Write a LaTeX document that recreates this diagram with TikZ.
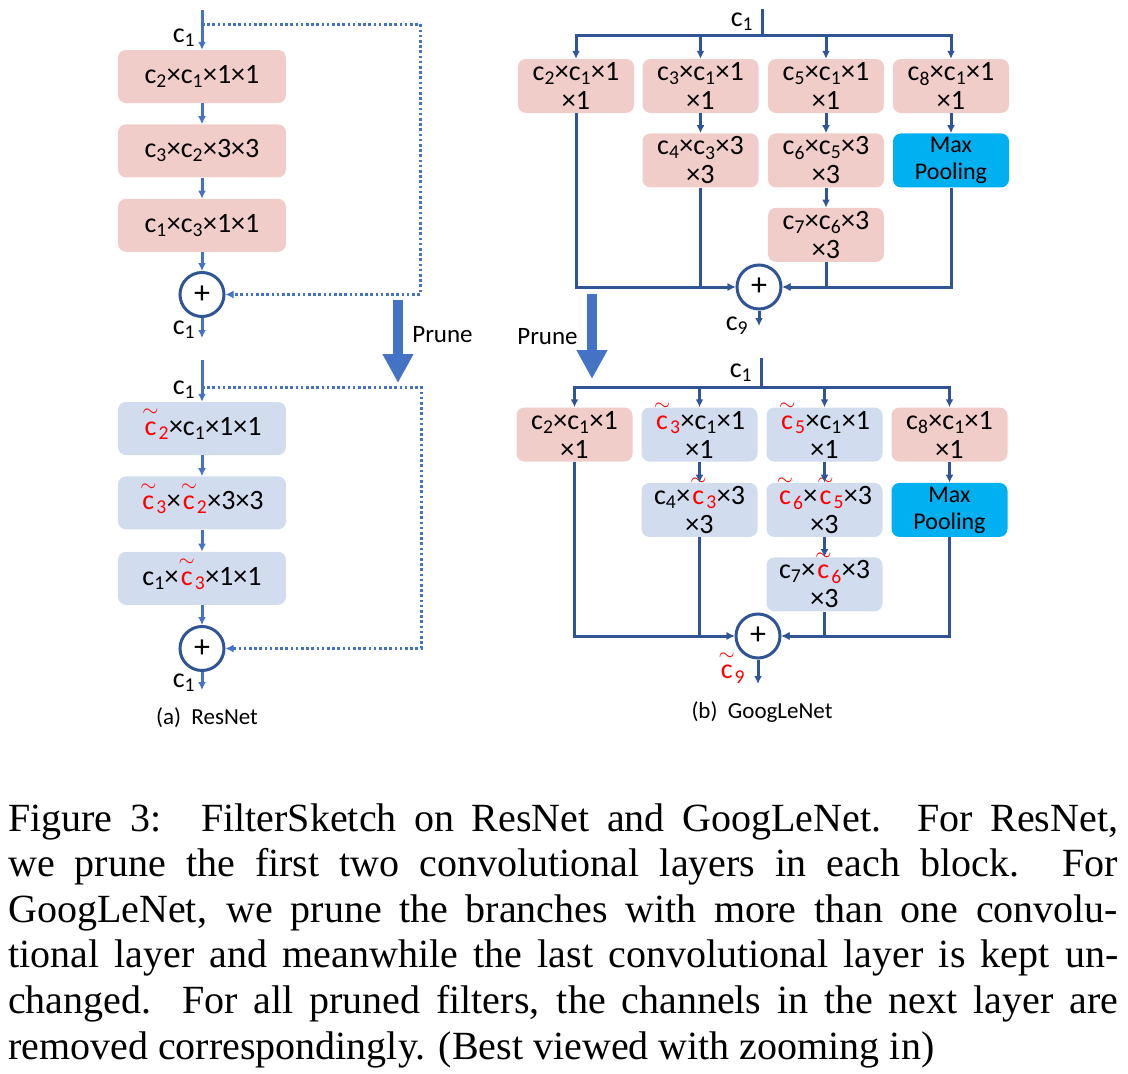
\documentclass[tikz,border=0pt]{standalone}
\usepackage{amsmath}
\usepackage{fontspec}
\setmainfont{Carlito}
\newfontfamily\capfont{Liberation Serif}
\usetikzlibrary{arrows.meta,positioning}
\definecolor{convpink}{HTML}{F1CDCA}
\definecolor{prunedgrey}{HTML}{D1DCEE}
\definecolor{poolcyan}{HTML}{00B0F0}
\definecolor{linkblue}{HTML}{2F5597}
\definecolor{arrowblue}{HTML}{4472C4}
\newcommand{\chn}[1]{$\text{c}_{\text{#1}}$}
\newcommand{\chp}[1]{\textcolor{red}{$\smash[t]{\overset{\sim}{\text{c}}}_{\text{#1}}$}}

\begin{document}
\begin{tikzpicture}[x=1pt, y=-1pt,
        node distance=20pt,
        font=\fontsize{28}{29}\selectfont,
        box/.style={rounded corners=8pt, inner sep=0pt, align=center},
        conv/.style={box, fill=convpink},
        cut/.style={box, fill=prunedgrey},
        pool/.style={box, fill=poolcyan, font=\fontsize{24}{27}\selectfont},
        res/.style={minimum width=168pt, minimum height=53pt},
        inc/.style={minimum width=116pt, minimum height=54pt},
        plus/.style={circle, draw=linkblue, line width=3pt, fill=white, minimum size=44pt, inner sep=0pt, font=\fontsize{32}{32}\selectfont},
        arrow/.style={-{Latex[length=8pt,width=8pt]}, line width=3pt},
        skip/.style={arrow, dash pattern=on 2.6pt off 2.6pt},
        prune/.style={arrowblue, line width=10pt, -{Triangle[length=29pt,width=29pt]}},
        lbl/.style={black, font=\fontsize{25}{25}\selectfont},
        caption/.style={anchor=base west, inner sep=0pt, font=\capfont\fontsize{40}{46}\selectfont},
    ]
    \useasboundingbox (0,0) rectangle (1128,1074);

    % ResNet, original block
    \coordinate (rin) at (202,10);
    \coordinate (rtap) at (202,24);
    \node[conv, res] (ra) at (202,76.5) {\chn{2}×\chn{1}×1×1};
    \node[conv, res, below=21pt of ra] (rb) {\chn{3}×\chn{2}×3×3};
    \node[conv, res, below=21pt of rb] (rc) {\chn{1}×\chn{3}×1×1};
    \node[plus, below=19pt of rc] (rsum) {+};
    \coordinate (rout) at (202,338);
    \begin{scope}[arrowblue]
        \draw[arrow] (rin) -- (ra) node[pos=0.7, left=2pt, black] {\chn{1}};
        \draw[arrow] (ra) -- (rb);
        \draw[arrow] (rb) -- (rc);
        \draw[arrow] (rc) -- (rsum);
        \draw[arrow] (rsum) -- (rout) node[pos=0.6, left=2pt, black] {\chn{1}};
        \draw[skip] (rtap) -- ++(218pt,0) |- (rsum);
    \end{scope}

    % ResNet, pruned block
    \coordinate (rin2) at (202,360);
    \coordinate (rtap2) at (202,387);
    \node[cut, res] (rd) at (202,428.5) {\chp{2}×\chn{1}×1×1};
    \node[cut, res, below=21pt of rd] (re) {\chp{3}×\chp{2}×3×3};
    \node[cut, res, below=22pt of re] (rf) {\chn{1}×\chp{3}×1×1};
    \node[plus, below=20pt of rf] (rsum2) {+};
    \coordinate (rout2) at (202,690);
    \begin{scope}[arrowblue]
        \draw[arrow] (rin2) -- (rd) node[pos=0.7, left=2pt, black] {\chn{1}};
        \draw[arrow] (rd) -- (re);
        \draw[arrow] (re) -- (rf);
        \draw[arrow] (rf) -- (rsum2);
        \draw[arrow] (rsum2) -- (rout2) node[pos=0.6, left=2pt, black] {\chn{1}};
        \draw[skip] (rtap2) -- ++(219pt,0) |- (rsum2);
    \end{scope}

    \coordinate (pa) at (398,300);
    \coordinate (pb) at (398,383);
    \draw[prune] (pa) -- (pb) node[pos=0.42, right=6pt, lbl] {Prune};
    \node[lbl, font=\fontsize{23}{23}\selectfont] (capa) at (207,718) {(a)~~ResNet};

    % GoogLeNet, original block
    \coordinate (gin) at (762,9);
    \coordinate (gsplit) at (762,35);
    \node[conv, inc] (ga) at (576,86) {\chn{2}×\chn{1}×1\\×1};
    \node[conv, inc] (gb) at (700.5,86) {\chn{3}×\chn{1}×1\\×1};
    \node[conv, inc, below=of gb] (gb2) {\chn{4}×\chn{3}×3\\×3};
    \node[conv, inc] (gc) at (826,86) {\chn{5}×\chn{1}×1\\×1};
    \node[conv, inc, below=of gc] (gc2) {\chn{6}×\chn{5}×3\\×3};
    \node[conv, inc, below=of gc2] (gc3) {\chn{7}×\chn{6}×3\\×3};
    \node[conv, inc] (gd) at (951,86) {\chn{8}×\chn{1}×1\\×1};
    \node[pool, inc, below=of gd] (gd2) {Max\\Pooling};
    \node[plus] (gsum) at (759,287) {+};
    \coordinate (gout) at (759,326);
    \begin{scope}[linkblue]
        \draw[line width=3pt] (gin) -- (gsplit) node[midway, left=4pt, black] {\chn{1}};
        \foreach \b in {ga,gb,gc,gd}
            \draw[arrow] (gsplit) -| (\b);
        \draw[arrow] (gb) -- (gb2);
        \draw[arrow] (gc) -- (gc2);
        \draw[arrow] (gc2) -- (gc3);
        \draw[arrow] (gd) -- (gd2);
        \draw[arrow] (ga) |- (gsum);
        \draw[arrow] (gb2) |- (gsum);
        \draw[arrow] (gc3) |- (gsum);
        \draw[arrow] (gd2) |- (gsum);
        \draw[arrow] (gsum) -- (gout) node[at end, left=6pt, black] {\chn{9}};
    \end{scope}

    \coordinate (qa) at (592,294);
    \coordinate (qb) at (592,379);
    \draw[prune] (qa) -- (qb) node[midway, left=6pt, lbl] {Prune};

    % GoogLeNet, pruned block
    \coordinate (hin) at (761,358);
    \coordinate (hsplit) at (761,387);
    \node[conv, inc] (ha) at (574.5,434.5) {\chn{2}×\chn{1}×1\\×1};
    \node[cut, inc] (hb) at (699.5,434.5) {\chp{3}×\chn{1}×1\\×1};
    \node[cut, inc, below=21pt of hb] (hb2) {\chn{4}×\chp{3}×3\\×3};
    \node[cut, inc] (hc) at (824.5,434.5) {\chp{5}×\chn{1}×1\\×1};
    \node[cut, inc, below=21pt of hc] (hc2) {\chp{6}×\chp{5}×3\\×3};
    \node[cut, inc, below=of hc2] (hc3) {\chn{7}×\chp{6}×3\\×3};
    \node[conv, inc] (hd) at (949.5,434.5) {\chn{8}×\chn{1}×1\\×1};
    \node[pool, inc, below=21pt of hd] (hd2) {Max\\Pooling};
    \node[plus] (hsum) at (758,636) {+};
    \coordinate (hout) at (758,684);
    \begin{scope}[linkblue]
        \draw[line width=3pt] (hin) -- (hsplit) node[midway, left=4pt, black] {\chn{1}};
        \foreach \b in {ha,hb,hc,hd}
            \draw[arrow] (hsplit) -| (\b);
        \draw[arrow] (hb) -- (hb2);
        \draw[arrow] (hc) -- (hc2);
        \draw[arrow] (hc2) -- (hc3);
        \draw[arrow] (hd) -- (hd2);
        \draw[arrow] (ha) |- (hsum);
        \draw[arrow] (hb2) |- (hsum);
        \draw[arrow] (hc3) |- (hsum);
        \draw[arrow] (hd2) |- (hsum);
        \draw[arrow] (hsum) -- (hout) node[pos=0.7, left=8pt] {\chp{9}};
    \end{scope}
    \node[lbl, font=\fontsize{23}{23}\selectfont] (capb) at (762,712) {(b)~~GoogLeNet};

    % caption
    \node[caption] (cap1) at (8,831) {\makebox[1110pt][s]{Figure 3:\quad FilterSketch on ResNet and GoogLeNet. For ResNet,}};
    \node[caption] (cap2) at (8,876.6) {\makebox[1110pt][s]{we prune the first two convolutional layers in each block. For}};
    \node[caption] (cap3) at (8,922.2) {\makebox[1110pt][s]{GoogLeNet, we prune the branches with more than one convolu-}};
    \node[caption] (cap4) at (8,967.8) {\makebox[1110pt][s]{tional layer and meanwhile the last convolutional layer is kept un-}};
    \node[caption] (cap5) at (8,1013.4) {\makebox[1110pt][s]{changed. For all pruned filters, the channels in the next layer are}};
    \node[caption] (cap6) at (8,1059) {removed correspondingly. (Best viewed with zooming in)};
\end{tikzpicture}
\end{document}
